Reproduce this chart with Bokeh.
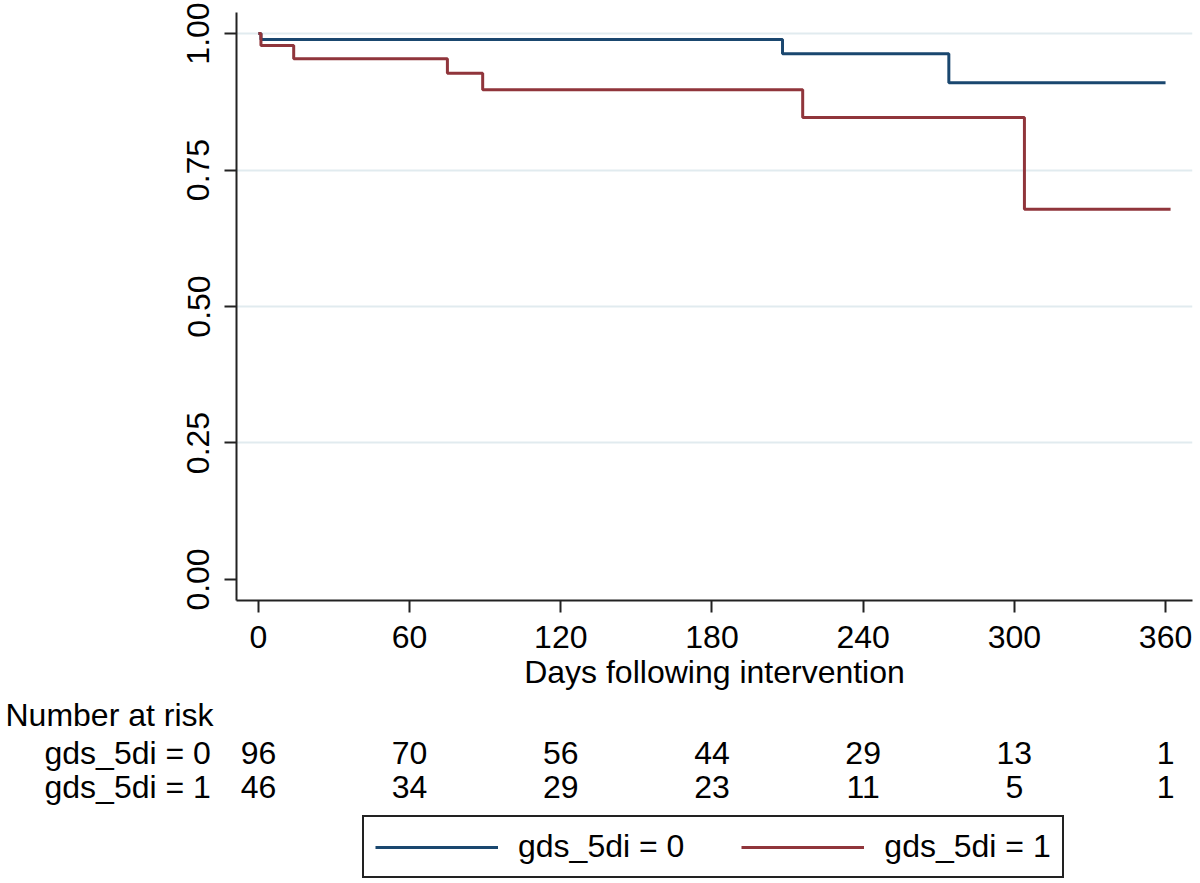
from bokeh.plotting import figure
from bokeh.models import (Range1d, FixedTicker, PrintfTickFormatter,
                          Legend, LegendItem)
from bokeh.core.properties import value
from bokeh.embed import file_html
from bokeh.resources import INLINE

# ---- data ----
g0_times = [0, 1, 208, 274, 360]
g0_surv = [1.0, 0.989, 0.963, 0.910, 0.910]
g1_times = [0, 1, 14, 75, 89, 216, 304, 362]
g1_surv = [1.0, 0.978, 0.954, 0.927, 0.897, 0.846, 0.678, 0.678]

risk_times = [0, 60, 120, 180, 240, 300, 360]
risk_g0 = [96, 70, 56, 44, 29, 13, 1]
risk_g1 = [46, 34, 29, 23, 11, 5, 1]

group_labels = ["gds_5di = 0", "gds_5di = 1"]
x_ticks = [0, 60, 120, 180, 240, 300, 360]
y_ticks = [0, 0.25, 0.5, 0.75, 1.0]

BLUE = "#1a476f"
RED = "#90353b"
FONT = "Liberation Sans"
FS = "32px"

X0, X1 = -8.7, 370.7          # plotted day range
FRAME_L, FRAME_W = 236, 956   # frame position (px)
PX_PER_DAY = FRAME_W / (X1 - X0)

# ---------------- survival plot ----------------
p = figure(width=1200, height=700, frame_width=FRAME_W, frame_height=588,
           min_border_left=FRAME_L, min_border_right=8,
           min_border_top=12, min_border_bottom=100,
           x_range=Range1d(X0, X1), y_range=Range1d(-0.0385, 1.0385),
           output_backend="svg", toolbar_location=None)
p.outline_line_color = None
p.background_fill_color = "white"
p.border_fill_color = "white"

p.xgrid.grid_line_color = None
p.ygrid.ticker = FixedTicker(ticks=[0.25, 0.5, 0.75, 1.0])
p.ygrid.grid_line_color = "#e1ebef"
p.ygrid.grid_line_width = 2

for ax in (p.xaxis[0], p.yaxis[0]):
    ax.axis_line_width = 2
    ax.axis_line_color = "#222222"
    ax.major_tick_line_width = 2
    ax.major_tick_line_color = "#222222"
    ax.major_tick_out = 12
    ax.major_tick_in = 0
    ax.minor_tick_line_color = None
    ax.major_label_text_font = FONT
    ax.major_label_text_font_size = FS
    ax.major_label_text_color = "black"

p.xaxis.ticker = FixedTicker(ticks=x_ticks)
p.xaxis.major_label_standoff = 13
p.xaxis.axis_label = "Days following intervention"
p.xaxis.axis_label_text_font = FONT
p.xaxis.axis_label_text_font_size = FS
p.xaxis.axis_label_text_font_style = "normal"
p.xaxis.axis_label_text_color = "black"
p.xaxis.axis_label_standoff = 3

p.yaxis.ticker = FixedTicker(ticks=y_ticks)
p.yaxis.formatter = PrintfTickFormatter(format="%.2f")
p.yaxis.major_label_orientation = "vertical"
p.yaxis.major_label_standoff = 15

p.step(g0_times, g0_surv, mode="after", line_color=BLUE, line_width=3)
p.step(g1_times, g1_surv, mode="after", line_color=RED, line_width=3)

# ---------------- risk table + legend ----------------
TOTAL_W, TOP_H, BOT_H = 1200, 700, 183
zero_px = FRAME_L + (0 - X0) * PX_PER_DAY
p2 = figure(width=TOTAL_W, height=BOT_H, frame_width=TOTAL_W, frame_height=BOT_H,
            x_range=Range1d(-zero_px / PX_PER_DAY, (TOTAL_W - zero_px) / PX_PER_DAY),
            y_range=Range1d(TOP_H + BOT_H, TOP_H),
            min_border=0, x_axis_location=None, y_axis_location=None,
            output_backend="svg", toolbar_location=None)
p2.outline_line_color = None
p2.grid.grid_line_color = None
p2.background_fill_color = "white"
p2.border_fill_color = "white"

def day_of_px(px):
    return (px - zero_px) / PX_PER_DAY

txt = dict(text_font=value(FONT), text_font_size=FS, text_color="black",
           text_baseline="alphabetic")
ROW_HEAD, ROW0, ROW1 = 714, 752, 786
p2.text(x=[day_of_px(5)], y=[ROW_HEAD], text=["Number at risk"], text_align="left", **txt)
p2.text(x=[day_of_px(44)] * 2, y=[ROW0, ROW1], text=group_labels, text_align="left", **txt)
p2.text(x=risk_times, y=[ROW0] * len(risk_times), text=[str(n) for n in risk_g0],
        text_align="center", **txt)
p2.text(x=risk_times, y=[ROW1] * len(risk_times), text=[str(n) for n in risk_g1],
        text_align="center", **txt)

# legend entries (same curves; they fall outside this panel's visible range)
l0 = p2.line(x=g0_times, y=g0_surv, line_color=BLUE, line_width=3)
l1 = p2.line(x=g1_times, y=g1_surv, line_color=RED, line_width=3)
legend = Legend(items=[LegendItem(label=group_labels[0], renderers=[l0]),
                       LegendItem(label=group_labels[1], renderers=[l1])],
                orientation="horizontal", location=(362, 5),
                label_text_font=FONT, label_text_font_size=FS,
                label_text_color="black",
                glyph_width=123, glyph_height=30, label_standoff=20,
                spacing=57, padding=11, margin=0,
                border_line_color="#222222", border_line_width=2,
                border_line_alpha=1,
                background_fill_color="white", background_fill_alpha=1)
p2.add_layout(legend, "center")

open("out.html", "w").write(file_html([p, p2], INLINE))
